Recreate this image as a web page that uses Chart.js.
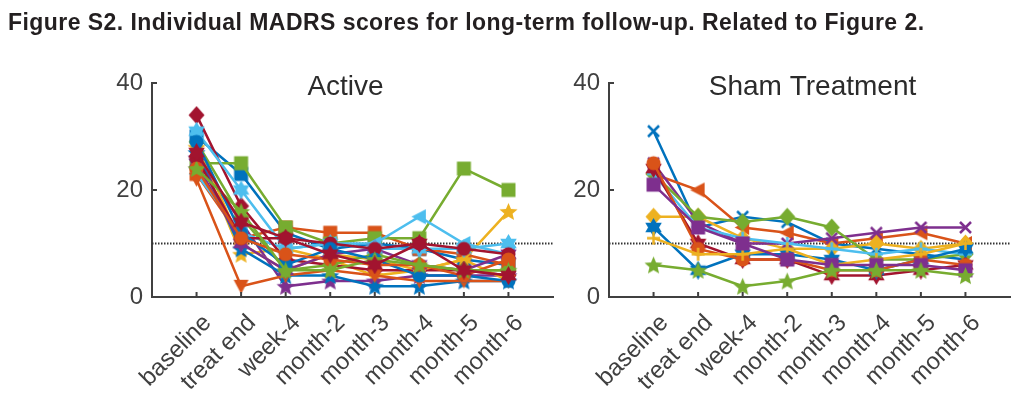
<!DOCTYPE html>
<html>
<head>
<meta charset="utf-8">
<script src="https://cdn.jsdelivr.net/npm/chart.js@4.4.1/dist/chart.umd.min.js"></script>
<style>
    body { margin: 0; background: #fff; width: 1024px; height: 398px; overflow: hidden; position: relative; font-family: "Liberation Sans", Arial, sans-serif; }
    #figTitle { position: absolute; left: 8px; top: 9px; font-weight: bold; font-size: 23px; letter-spacing: 0.45px; color: #231f20; white-space: nowrap; z-index: 2; }
    .panel { position: absolute; top: 0; height: 398px; }
</style>
</head>
<body>
<div id="figTitle">Figure S2. Individual MADRS scores for long-term follow-up. Related to Figure 2.</div>
<div class="panel" style="left:0;width:560px"><canvas id="activeChart" width="560" height="398"></canvas></div>
<div class="panel" style="left:560px;width:464px"><canvas id="shamChart" width="464" height="398"></canvas></div>
<script>
const timepoints = ['baseline', 'treat end', 'week-4', 'month-2', 'month-3', 'month-4', 'month-5', 'month-6'];
const yTicks = [0, 20, 40];
const cutoff = 10;

// Active group, one array per patient
const active01 = [30, 23, 12, 9, 10, 9, 7, 6];
const active02 = [23, 11, 13, 12, 12, 9, 8, 6];
const active03 = [28, 8, 9, 7, 4, 5, 7, 16];
const active04 = [26, 14, 2, 3, 3, 4, 4, 4];
const active05 = [25, 25, 13, 10, 11, 11, 24, 20];
const active06 = [23, 12, 9, 10, 10, 15, 10, 8];
const active07 = [34, 17, 7, 6, 5, 5, 5, 4];
const active08 = [27, 9, 4, 4, 2, 2, 3, 3];
const active09 = [22, 2, 4, 5, 4, 3, 3, 3];
const active10 = [29, 10, 5, 8, 7, 5, 7, 3];
const active11 = [25, 10, 5, 8, 9, 6, 5, 8];
const active12 = [29, 15, 5, 6, 8, 6, 5, 5];
const active13 = [31, 20, 9, 10, 9, 9, 9, 10];
const active14 = [26, 11, 11, 10, 9, 10, 9, 8];
const active15 = [29, 12, 6, 9, 7, 4, 4, 3];
const active16 = [24, 11, 8, 7, 6, 6, 4, 7];
const active17 = [24, 16, 5, 5, 7, 6, 5, 5];
const active18 = [27, 14, 11, 8, 6, 10, 5, 4];

// Sham group
const sham01 = [31, 13, 15, 14, 10, 9, 8, 7];
const sham02 = [23, 20, 13, 12, 10, 11, 12, 10];
const sham03 = [15, 15, 11, 9, 9, 10, 9, 10];
const sham04 = [25, 14, 10, 10, 11, 12, 13, 13];
const sham05 = [23, 15, 14, 15, 13, 7, 7, 8];
const sham06 = [23, 13, 11, 10, 9, 8, 9, 8];
const sham07 = [24, 10, 7, 7, 4, 4, 5, 6];
const sham08 = [13, 5, 8, 8, 7, 5, 7, 9];
const sham09 = [25, 9, 7, 7, 5, 5, 7, 6];
const sham10 = [11, 8, 8, 9, 6, 7, 8, 10];
const sham11 = [21, 13, 10, 7, 6, 6, 6, 5];
const sham12 = [6, 5, 2, 3, 5, 5, 5, 4];

const activeSeries = [active01, active02, active03, active04, active05, active06, active07, active08, active09,
    active10, active11, active12, active13, active14, active15, active16, active17, active18];
const shamSeries = [sham01, sham02, sham03, sham04, sham05, sham06, sham07, sham08, sham09, sham10, sham11, sham12];

// matlab default colour order
const C = {
    blue: '#0072BD', orange: '#D95319', yellow: '#EDB120', purple: '#7E2F8E',
    green: '#77AC30', cyan: '#4DBEEE', red: '#A2142F'
};
const activeStyles = [
    [C.blue, 'square'], [C.orange, 'square'], [C.yellow, 'star5'], [C.purple, 'star5'], [C.green, 'square'],
    [C.cyan, 'triL'], [C.red, 'diamond'], [C.blue, 'star5'], [C.orange, 'triD'], [C.yellow, 'plus'],
    [C.purple, 'star6'], [C.green, 'diamond'], [C.cyan, 'star6'], [C.red, 'circle'], [C.blue, 'circle'],
    [C.orange, 'circle'], [C.green, 'star5'], [C.red, 'star6']
];
const shamStyles = [
    [C.blue, 'x'], [C.orange, 'triL'], [C.yellow, 'diamond'], [C.purple, 'x'], [C.green, 'diamond'],
    [C.cyan, 'plus'], [C.red, 'star6'], [C.blue, 'star6'], [C.orange, 'circle'], [C.yellow, 'plus'],
    [C.purple, 'square'], [C.green, 'star5']
];

const axisColor = '#404040';

function makeMarker(shape, color) {
    const s = 19, h = s / 2;
    const c = document.createElement('canvas');
    c.width = s; c.height = s;
    const g = c.getContext('2d');
    g.fillStyle = color;
    g.strokeStyle = color;
    g.lineWidth = 2.5;
    g.beginPath();
    if (shape === 'square') {
        g.rect(2.5, 2.5, s - 5, s - 5);
    } else if (shape === 'diamond') {
        g.moveTo(h, 0.5); g.lineTo(s - 1.5, h); g.lineTo(h, s - 0.5); g.lineTo(1.5, h); g.closePath();
    } else if (shape === 'circle') {
        g.arc(h, h, h - 2.5, 0, Math.PI * 2);
    } else if (shape === 'star5' || shape === 'star6') {
        const n = shape === 'star5' ? 5 : 6;
        const inner = shape === 'star5' ? 0.45 : 0.58;
        for (let k = 0; k < n * 2; k++) {
            const r = (k % 2 === 0 ? h : h * inner);
            const a = -Math.PI / 2 + k * Math.PI / n;
            const px = h + r * Math.cos(a), py = h + r * Math.sin(a) + (n === 5 ? 0.9 : 0);
            if (k === 0) g.moveTo(px, py); else g.lineTo(px, py);
        }
        g.closePath();
    } else if (shape === 'triL') {
        g.moveTo(1.5, h); g.lineTo(s - 3, 2); g.lineTo(s - 3, s - 2); g.closePath();
    } else if (shape === 'triD') {
        g.moveTo(2, 3); g.lineTo(s - 2, 3); g.lineTo(h, s - 2); g.closePath();
    } else if (shape === 'x') {
        g.moveTo(4, 4); g.lineTo(s - 4, s - 4); g.moveTo(s - 4, 4); g.lineTo(4, s - 4);
        g.stroke();
        return c;
    } else if (shape === 'plus') {
        g.moveTo(h, 3); g.lineTo(h, s - 3); g.moveTo(3, h); g.lineTo(s - 3, h);
        g.stroke();
        return c;
    }
    g.fill();
    return c;
}

// inward matlab-style ticks plus the panel title
const panelDecor = {
    id: 'panelDecor',
    afterDraw(chart, args, opts) {
        const { ctx, chartArea, scales } = chart;
        ctx.save();
        ctx.strokeStyle = axisColor;
        ctx.lineWidth = 2;
        ctx.beginPath();
        timepoints.forEach((t, i) => {
            const x = scales.x.getPixelForValue(i);
            ctx.moveTo(x, chartArea.bottom);
            ctx.lineTo(x, chartArea.bottom - 5);
        });
        yTicks.forEach(v => {
            const y = scales.y.getPixelForValue(v);
            ctx.moveTo(chartArea.left, y);
            ctx.lineTo(chartArea.left + 5, y);
        });
        ctx.stroke();
        ctx.fillStyle = '#2b2b2b';
        ctx.font = '28px "Liberation Sans", Arial, sans-serif';
        ctx.textAlign = 'center';
        ctx.textBaseline = 'alphabetic';
        ctx.fillText(opts.text, (chartArea.left + chartArea.right) / 2 + opts.dx, chartArea.top + 12);
        ctx.restore();
    }
};

function buildChart(canvasId, series, styles, title, yWidth, padRight, dx) {
    const datasets = series.map((vals, i) => ({
        data: vals.map((v, j) => ({ x: j, y: v })),
        borderColor: styles[i][0],
        backgroundColor: styles[i][0],
        borderWidth: 2.5,
        pointStyle: makeMarker(styles[i][1], styles[i][0]),
        tension: 0,
        order: series.length - i
    }));
    datasets.push({
        data: [{ x: -1, y: cutoff }, { x: 8, y: cutoff }],
        borderColor: '#333',
        borderWidth: 2,
        borderDash: [1.5, 1.5],
        pointRadius: 0,
        order: 100
    });

    return new Chart(document.getElementById(canvasId), {
        type: 'line',
        data: { datasets },
        plugins: [panelDecor],
        options: {
            responsive: false,
            animation: false,
            events: [],
            layout: { padding: { top: 83, right: padRight, left: 0, bottom: 0 } },
            plugins: {
                legend: { display: false },
                tooltip: { enabled: false },
                panelDecor: { text: title, dx: dx }
            },
            scales: {
                x: {
                    type: 'linear',
                    min: -1,
                    max: 8,
                    afterBuildTicks: s => { s.ticks = timepoints.map((t, i) => ({ value: i })); },
                    afterFit: s => { s.height = 101; },
                    grid: { display: false, drawTicks: false },
                    border: { display: true, color: axisColor, width: 2 },
                    ticks: {
                        autoSkip: false,
                        minRotation: 45,
                        maxRotation: 45,
                        padding: 12,
                        labelOffset: 11,
                        color: axisColor,
                        font: { family: '"Liberation Sans", Arial, sans-serif', size: 24 },
                        callback: v => timepoints[v]
                    }
                },
                y: {
                    min: 0,
                    max: 40,
                    afterBuildTicks: s => { s.ticks = yTicks.map(v => ({ value: v })); },
                    afterFit: s => { s.width = yWidth; },
                    grid: { display: false, drawTicks: false },
                    border: { display: true, color: axisColor, width: 2 },
                    ticks: {
                        padding: 9,
                        color: axisColor,
                        font: { family: '"Liberation Sans", Arial, sans-serif', size: 24 }
                    }
                }
            }
        }
    });
}

buildChart('activeChart', activeSeries, activeStyles, 'Active', 152, 7, -7);
buildChart('shamChart', shamSeries, shamStyles, 'Sham Treatment', 49, 14, 3);
</script>
</body>
</html>
